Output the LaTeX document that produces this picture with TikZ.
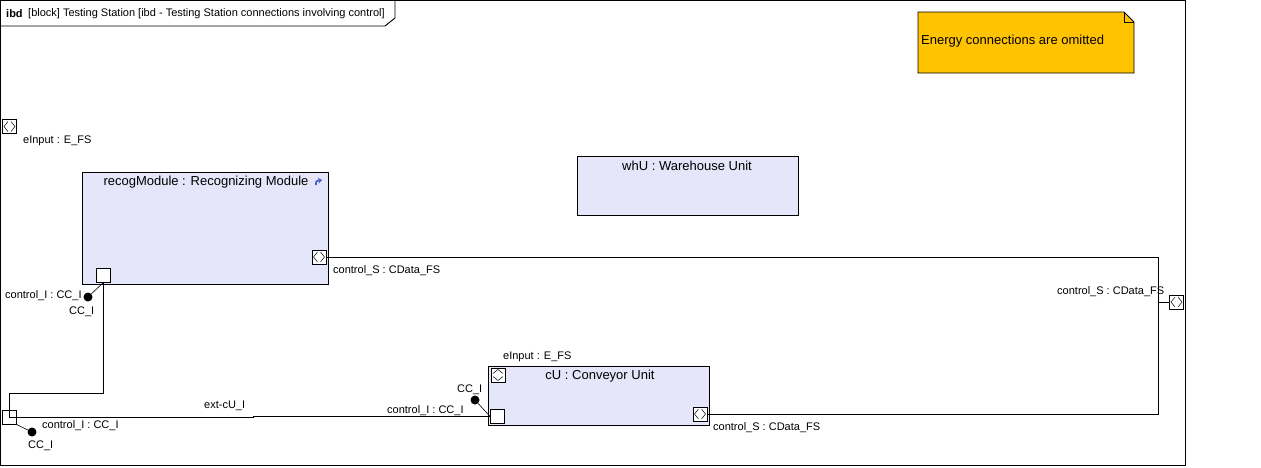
\documentclass[tikz,border=0pt]{standalone}
\usepackage{fontspec}
\setmainfont{Liberation Sans}
\usetikzlibrary{arrows.meta}
\definecolor{blockfill}{HTML}{E6E6FA}
\definecolor{notefill}{HTML}{FFC300}
\definecolor{iconblue}{HTML}{4A5FC8}
\tikzset{
  blk/.style={draw, fill=blockfill, line width=0.9pt, anchor=north west, inner sep=0},
  portsq/.style={draw, fill=white, minimum size=14pt, inner sep=0, line width=0.8pt},
  lbl/.style={font=\fontsize{11}{13}\selectfont, inner sep=0, anchor=west},
  ttl/.style={font=\fontsize{13}{15}\selectfont, inner sep=0},
  conn/.style={line width=0.9pt},
  ball/.style={circle, fill=black, minimum size=9pt, inner sep=0},
  stem/.style={line width=0.6pt},
  hchev/.pic={\draw[line width=0.5pt] (-1.5,-5)--(-5.5,0)--(-1.5,5) (1.5,-5)--(5.5,0)--(1.5,5);},
  vchev/.pic={\draw[line width=0.5pt] (-5,-1.5)--(0,-5.5)--(5,-1.5) (-5,1.5)--(0,5.5)--(5,1.5);}
}
\begin{document}
\begin{tikzpicture}[x=1pt,y=-1pt]
\useasboundingbox (0,0) rectangle (1261,467);
\fill[white] (0,0) rectangle (1261,467);
% frame
\draw[line width=0.9pt] (0.5,0.5) rectangle (1185.5,465.5);
\draw[line width=0.9pt] (0.5,26) -- (385,26) -- (395,18) -- (395,0.5);
\node[font=\bfseries\fontsize{11}{13}\selectfont, inner sep=0, anchor=west] (ibd) at (6,14) {ibd};
\node[font=\fontsize{11}{13}\selectfont, inner sep=0, anchor=west] (frametitle) at (28,14) {[block] Testing Station [ibd - Testing Station connections involving control]};
% note
\draw[line width=0.9pt, fill=notefill] (918,12) -- (1124,12) -- (1134,22) -- (1134,73) -- (918,73) -- cycle;
\draw[line width=0.6pt] (1124,12) -- (1124,22) -- (1134,22);
\node[ttl, anchor=west] (note) at (921,41) {Energy connections are omitted};
% blocks
\node[blk, minimum width=246pt, minimum height=112pt] (recog) at (82,172) {};
\node[ttl] (recogT) at (206,182) {recogModule : Recognizing Module};
\draw[iconblue, line width=1.8pt, -{Stealth[length=4pt,width=6pt]}] (316,185) .. controls (316,181) .. (322,180);
\node[blk, minimum width=221pt, minimum height=59pt] (whU) at (577,156) {};
\node[ttl] (whUT) at (687,166) {whU : Warehouse Unit};
\node[blk, minimum width=221pt, minimum height=59pt] (cU) at (488,366) {};
\node[ttl] (cUT) at (600,376) {cU : Conveyor Unit};
% ports
\node[portsq] (fpE) at (9.5,126.5) {}; \pic at (fpE) {hchev};
\node[portsq] (fpI) at (9,417) {};
\node[portsq] (fpS) at (1176.5,302) {}; \pic at (fpS) {hchev};
\node[portsq] (rS) at (319,257) {}; \pic at (rS) {hchev};
\node[portsq] (rI) at (103,275.5) {};
\node[portsq] (cE) at (498,375) {}; \pic at (cE) {vchev};
\node[portsq] (cI) at (497,416) {};
\node[portsq] (cS) at (700,414) {}; \pic at (cS) {hchev};
% balls
\node[ball] (b1) at (88,297) {};
\node[ball] (b2) at (32,432) {};
\node[ball] (b3) at (475,400) {};
\draw[stem] (b1) -- (rI.south);
\draw[stem] (b2) -- (fpI.south east);
\draw[stem] (b3) -- (cI.west);
% connectors
\coordinate (jn) at (1158,302);
\draw[conn] (rI.south) -- (103,393) -- (9,393) -- (fpI.center);
\draw[conn] (fpI.center) -- (253,417) -- (253,416) -- (cI.west);
\draw[conn] (rS.east) -- (1158,257) -- (jn) -- (fpS.west);
\draw[conn] (cS.east) -- (1158,414) -- (jn);
% labels
\node[lbl] (l1) at (23,141) {eInput : E\_FS};
\node[lbl] (l2) at (5,296) {control\_I : CC\_I};
\node[lbl] (l3) at (69,312) {CC\_I};
\node[lbl] (l4) at (333,271) {control\_S : CData\_FS};
\node[lbl] (l5) at (42,426) {control\_I : CC\_I};
\node[lbl] (l6) at (28,446) {CC\_I};
\node[lbl] (l7) at (204,406) {ext-cU\_I};
\node[lbl] (l8) at (457,390) {CC\_I};
\node[lbl] (l9) at (387,411) {control\_I : CC\_I};
\node[lbl] (l10) at (503,357) {eInput : E\_FS};
\node[lbl] (l11) at (713,428) {control\_S : CData\_FS};
\node[lbl] (l12) at (1057,292) {control\_S : CData\_FS};
\end{tikzpicture}
\end{document}
